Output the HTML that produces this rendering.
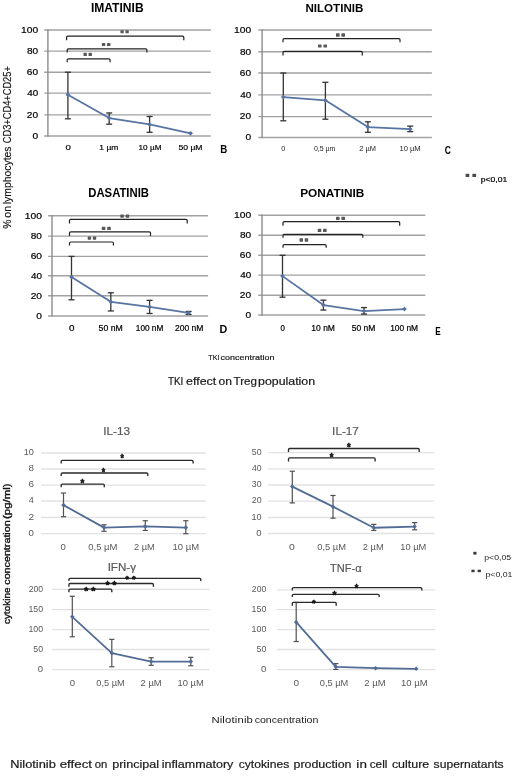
<!DOCTYPE html>
<html><head><meta charset="utf-8"><style>
html,body{margin:0;padding:0;background:#fff;}
svg{display:block;font-family:"Liberation Sans",sans-serif;will-change:transform;}
</style></head><body>
<svg width="520" height="776" viewBox="0 0 520 776">
<text x="90.92" y="11.80" font-size="12.03" font-weight="bold" fill="#000" textLength="52.72" lengthAdjust="spacingAndGlyphs" >IMATINIB</text>
<line x1="44.10" y1="136.00" x2="210.80" y2="136.00" stroke="#a2a2a2" stroke-width="1.4"/>
<text x="32.49" y="138.85" font-size="9.29" font-weight="normal" fill="#000" textLength="5.68" lengthAdjust="spacingAndGlyphs" stroke="#000" stroke-width="0.2">0</text>
<line x1="44.10" y1="114.90" x2="210.80" y2="114.90" stroke="#a2a2a2" stroke-width="1.4"/>
<text x="26.89" y="117.75" font-size="9.29" font-weight="normal" fill="#000" textLength="11.29" lengthAdjust="spacingAndGlyphs" stroke="#000" stroke-width="0.2">20</text>
<line x1="44.10" y1="93.10" x2="210.80" y2="93.10" stroke="#a2a2a2" stroke-width="1.4"/>
<text x="27.20" y="95.95" font-size="9.29" font-weight="normal" fill="#000" textLength="10.97" lengthAdjust="spacingAndGlyphs" stroke="#000" stroke-width="0.2">40</text>
<line x1="44.10" y1="72.20" x2="210.80" y2="72.20" stroke="#a2a2a2" stroke-width="1.4"/>
<text x="26.89" y="75.05" font-size="9.29" font-weight="normal" fill="#000" textLength="11.29" lengthAdjust="spacingAndGlyphs" stroke="#000" stroke-width="0.2">60</text>
<line x1="44.10" y1="51.10" x2="210.80" y2="51.10" stroke="#a2a2a2" stroke-width="1.4"/>
<text x="26.95" y="53.95" font-size="9.29" font-weight="normal" fill="#000" textLength="11.23" lengthAdjust="spacingAndGlyphs" stroke="#000" stroke-width="0.2">80</text>
<line x1="44.10" y1="30.00" x2="210.80" y2="30.00" stroke="#a2a2a2" stroke-width="1.4"/>
<text x="21.03" y="32.85" font-size="9.29" font-weight="normal" fill="#000" textLength="17.17" lengthAdjust="spacingAndGlyphs" stroke="#000" stroke-width="0.2">100</text>
<line x1="47.90" y1="29.30" x2="47.90" y2="136.70" stroke="#8c8c8c" stroke-width="1.4"/>
<line x1="67.90" y1="72.20" x2="67.90" y2="118.80" stroke="#333333" stroke-width="1.3"/>
<line x1="64.90" y1="72.20" x2="70.90" y2="72.20" stroke="#333333" stroke-width="1.3"/>
<line x1="64.90" y1="118.80" x2="70.90" y2="118.80" stroke="#333333" stroke-width="1.3"/>
<line x1="109.20" y1="112.94" x2="109.20" y2="124.18" stroke="#333333" stroke-width="1.3"/>
<line x1="106.20" y1="112.94" x2="112.20" y2="112.94" stroke="#333333" stroke-width="1.3"/>
<line x1="106.20" y1="124.18" x2="112.20" y2="124.18" stroke="#333333" stroke-width="1.3"/>
<line x1="149.60" y1="116.48" x2="149.60" y2="132.31" stroke="#333333" stroke-width="1.3"/>
<line x1="146.60" y1="116.48" x2="152.60" y2="116.48" stroke="#333333" stroke-width="1.3"/>
<line x1="146.60" y1="132.31" x2="152.60" y2="132.31" stroke="#333333" stroke-width="1.3"/>
<path d="M67.90,94.73 L109.20,118.06 L149.60,124.39 L190.60,133.36" stroke="#5874a2" stroke-width="1.8" fill="none" stroke-linejoin="round"/>
<path d="M65.50,94.73 L67.90,92.33 L70.30,94.73 L67.90,97.14 Z" fill="#5874a2"/>
<path d="M106.80,118.06 L109.20,115.66 L111.60,118.06 L109.20,120.47 Z" fill="#5874a2"/>
<path d="M147.20,124.39 L149.60,121.99 L152.00,124.39 L149.60,126.80 Z" fill="#5874a2"/>
<path d="M188.20,133.36 L190.60,130.96 L193.00,133.36 L190.60,135.76 Z" fill="#5874a2"/>
<text x="65.52" y="150.30" font-size="7.86" font-weight="normal" fill="#000" textLength="5.33" lengthAdjust="spacingAndGlyphs" stroke="#000" stroke-width="0.2">0</text>
<text x="99.37" y="150.30" font-size="7.97" font-weight="normal" fill="#000" textLength="18.97" lengthAdjust="spacingAndGlyphs" stroke="#000" stroke-width="0.2">1 µm</text>
<text x="138.59" y="150.30" font-size="7.86" font-weight="normal" fill="#000" textLength="22.90" lengthAdjust="spacingAndGlyphs" stroke="#000" stroke-width="0.2">10 µM</text>
<text x="178.46" y="150.30" font-size="7.86" font-weight="normal" fill="#000" textLength="24.07" lengthAdjust="spacingAndGlyphs" stroke="#000" stroke-width="0.2">50 µM</text>
<text x="220.27" y="153.40" font-size="10.14" font-weight="bold" fill="#000" textLength="6.99" lengthAdjust="spacingAndGlyphs" >B</text>
<path d="M66.60,40.30 L66.60,37.30 Q66.60,36.10 67.80,36.10 L182.60,36.10 Q183.80,36.10 183.80,37.30 L183.80,40.30" stroke="#222222" stroke-width="1.2" fill="none" />
<rect x="120.40" y="30.20" width="3.36" height="3.00" rx="0.6" fill="#585858"/>
<rect x="125.44" y="30.20" width="3.36" height="3.00" rx="0.6" fill="#585858"/>
<path d="M67.20,52.60 L67.20,50.00 Q67.20,48.80 68.40,48.80 L145.70,48.80 Q146.90,48.80 146.90,50.00 L146.90,52.60" stroke="#222222" stroke-width="1.2" fill="none" />
<rect x="101.90" y="43.00" width="3.40" height="3.00" rx="0.6" fill="#585858"/>
<rect x="107.00" y="43.00" width="3.40" height="3.00" rx="0.6" fill="#585858"/>
<path d="M67.20,62.30 L67.20,60.00 Q67.20,58.80 68.40,58.80 L108.90,58.80 Q110.10,58.80 110.10,60.00 L110.10,62.30" stroke="#222222" stroke-width="1.2" fill="none" />
<rect x="83.50" y="52.80" width="3.36" height="3.20" rx="0.6" fill="#585858"/>
<rect x="88.54" y="52.80" width="3.36" height="3.20" rx="0.6" fill="#585858"/>
<text x="305.45" y="11.90" font-size="11.71" font-weight="bold" fill="#000" textLength="57.93" lengthAdjust="spacingAndGlyphs" >NILOTINIB</text>
<line x1="258.30" y1="137.50" x2="431.90" y2="137.50" stroke="#a2a2a2" stroke-width="1.4"/>
<text x="245.49" y="140.35" font-size="9.29" font-weight="normal" fill="#000" textLength="5.68" lengthAdjust="spacingAndGlyphs" stroke="#000" stroke-width="0.2">0</text>
<line x1="258.30" y1="116.60" x2="431.90" y2="116.60" stroke="#a2a2a2" stroke-width="1.4"/>
<text x="239.89" y="119.45" font-size="9.29" font-weight="normal" fill="#000" textLength="11.29" lengthAdjust="spacingAndGlyphs" stroke="#000" stroke-width="0.2">20</text>
<line x1="258.30" y1="94.90" x2="431.90" y2="94.90" stroke="#a2a2a2" stroke-width="1.4"/>
<text x="240.20" y="97.75" font-size="9.29" font-weight="normal" fill="#000" textLength="10.97" lengthAdjust="spacingAndGlyphs" stroke="#000" stroke-width="0.2">40</text>
<line x1="258.30" y1="73.00" x2="431.90" y2="73.00" stroke="#a2a2a2" stroke-width="1.4"/>
<text x="239.89" y="75.85" font-size="9.29" font-weight="normal" fill="#000" textLength="11.29" lengthAdjust="spacingAndGlyphs" stroke="#000" stroke-width="0.2">60</text>
<line x1="258.30" y1="51.80" x2="431.90" y2="51.80" stroke="#a2a2a2" stroke-width="1.4"/>
<text x="239.95" y="54.65" font-size="9.29" font-weight="normal" fill="#000" textLength="11.23" lengthAdjust="spacingAndGlyphs" stroke="#000" stroke-width="0.2">80</text>
<line x1="258.30" y1="30.00" x2="431.90" y2="30.00" stroke="#a2a2a2" stroke-width="1.4"/>
<text x="234.03" y="32.85" font-size="9.29" font-weight="normal" fill="#000" textLength="17.17" lengthAdjust="spacingAndGlyphs" stroke="#000" stroke-width="0.2">100</text>
<line x1="262.10" y1="29.30" x2="262.10" y2="138.20" stroke="#8c8c8c" stroke-width="1.4"/>
<line x1="283.30" y1="73.00" x2="283.30" y2="120.78" stroke="#333333" stroke-width="1.3"/>
<line x1="280.30" y1="73.00" x2="286.30" y2="73.00" stroke="#333333" stroke-width="1.3"/>
<line x1="280.30" y1="120.78" x2="286.30" y2="120.78" stroke="#333333" stroke-width="1.3"/>
<line x1="325.40" y1="82.31" x2="325.40" y2="119.21" stroke="#333333" stroke-width="1.3"/>
<line x1="322.40" y1="82.31" x2="328.40" y2="82.31" stroke="#333333" stroke-width="1.3"/>
<line x1="322.40" y1="119.21" x2="328.40" y2="119.21" stroke="#333333" stroke-width="1.3"/>
<line x1="367.90" y1="121.82" x2="367.90" y2="132.28" stroke="#333333" stroke-width="1.3"/>
<line x1="364.90" y1="121.82" x2="370.90" y2="121.82" stroke="#333333" stroke-width="1.3"/>
<line x1="364.90" y1="132.28" x2="370.90" y2="132.28" stroke="#333333" stroke-width="1.3"/>
<line x1="410.20" y1="126.11" x2="410.20" y2="131.65" stroke="#333333" stroke-width="1.3"/>
<line x1="407.20" y1="126.11" x2="413.20" y2="126.11" stroke="#333333" stroke-width="1.3"/>
<line x1="407.20" y1="131.65" x2="413.20" y2="131.65" stroke="#333333" stroke-width="1.3"/>
<path d="M283.30,97.07 L325.40,100.33 L367.90,127.05 L410.20,129.14" stroke="#5874a2" stroke-width="1.8" fill="none" stroke-linejoin="round"/>
<path d="M280.90,97.07 L283.30,94.67 L285.70,97.07 L283.30,99.47 Z" fill="#5874a2"/>
<path d="M323.00,100.33 L325.40,97.92 L327.80,100.33 L325.40,102.73 Z" fill="#5874a2"/>
<path d="M365.50,127.05 L367.90,124.65 L370.30,127.05 L367.90,129.45 Z" fill="#5874a2"/>
<path d="M407.80,129.14 L410.20,126.74 L412.60,129.14 L410.20,131.54 Z" fill="#5874a2"/>
<text x="281.21" y="151.00" font-size="7.00" font-weight="normal" fill="#222" textLength="4.06" lengthAdjust="spacingAndGlyphs"  >0</text>
<text x="313.92" y="151.00" font-size="7.00" font-weight="normal" fill="#222" textLength="21.51" lengthAdjust="spacingAndGlyphs"  >0,5 µm</text>
<text x="359.33" y="151.00" font-size="7.00" font-weight="normal" fill="#222" textLength="16.69" lengthAdjust="spacingAndGlyphs"  >2 µM</text>
<text x="399.43" y="151.00" font-size="7.00" font-weight="normal" fill="#222" textLength="21.21" lengthAdjust="spacingAndGlyphs"  >10 µM</text>
<text x="444.76" y="153.80" font-size="10.57" font-weight="bold" fill="#000" textLength="6.17" lengthAdjust="spacingAndGlyphs" >C</text>
<path d="M283.00,42.30 L283.00,39.80 Q283.00,38.60 284.20,38.60 L398.80,38.60 Q400.00,38.60 400.00,39.80 L400.00,42.30" stroke="#222222" stroke-width="1.2" fill="none" />
<rect x="336.00" y="33.30" width="3.60" height="3.50" rx="0.6" fill="#585858"/>
<rect x="341.40" y="33.30" width="3.60" height="3.50" rx="0.6" fill="#585858"/>
<path d="M283.00,55.40 L283.00,52.50 Q283.00,51.30 284.20,51.30 L361.10,51.30 Q362.30,51.30 362.30,52.50 L362.30,55.40" stroke="#222222" stroke-width="1.2" fill="none" />
<rect x="318.00" y="44.40" width="3.60" height="3.20" rx="0.6" fill="#585858"/>
<rect x="323.40" y="44.40" width="3.60" height="3.20" rx="0.6" fill="#585858"/>
<rect x="465.60" y="173.80" width="3.70" height="3.20" fill="#4a4a4a"/>
<rect x="472.40" y="173.80" width="3.70" height="3.20" fill="#4a4a4a"/>
<text x="480.84" y="181.50" font-size="7.14" font-weight="normal" fill="#000" textLength="26.46" lengthAdjust="spacingAndGlyphs" stroke="#000" stroke-width="0.2">p&lt;0,01</text>
<text x="88.26" y="197.40" font-size="11.86" font-weight="bold" fill="#000" textLength="60.75" lengthAdjust="spacingAndGlyphs" >DASATINIB</text>
<line x1="48.00" y1="316.00" x2="208.10" y2="316.00" stroke="#a2a2a2" stroke-width="1.4"/>
<text x="36.29" y="318.85" font-size="9.29" font-weight="normal" fill="#000" textLength="5.68" lengthAdjust="spacingAndGlyphs" stroke="#000" stroke-width="0.2">0</text>
<line x1="48.00" y1="295.80" x2="208.10" y2="295.80" stroke="#a2a2a2" stroke-width="1.4"/>
<text x="30.69" y="298.65" font-size="9.29" font-weight="normal" fill="#000" textLength="11.29" lengthAdjust="spacingAndGlyphs" stroke="#000" stroke-width="0.2">20</text>
<line x1="48.00" y1="275.70" x2="208.10" y2="275.70" stroke="#a2a2a2" stroke-width="1.4"/>
<text x="31.00" y="278.55" font-size="9.29" font-weight="normal" fill="#000" textLength="10.97" lengthAdjust="spacingAndGlyphs" stroke="#000" stroke-width="0.2">40</text>
<line x1="48.00" y1="256.40" x2="208.10" y2="256.40" stroke="#a2a2a2" stroke-width="1.4"/>
<text x="30.69" y="259.25" font-size="9.29" font-weight="normal" fill="#000" textLength="11.29" lengthAdjust="spacingAndGlyphs" stroke="#000" stroke-width="0.2">60</text>
<line x1="48.00" y1="236.10" x2="208.10" y2="236.10" stroke="#a2a2a2" stroke-width="1.4"/>
<text x="30.75" y="238.95" font-size="9.29" font-weight="normal" fill="#000" textLength="11.23" lengthAdjust="spacingAndGlyphs" stroke="#000" stroke-width="0.2">80</text>
<line x1="48.00" y1="215.80" x2="208.10" y2="215.80" stroke="#a2a2a2" stroke-width="1.4"/>
<text x="24.83" y="218.65" font-size="9.29" font-weight="normal" fill="#000" textLength="17.17" lengthAdjust="spacingAndGlyphs" stroke="#000" stroke-width="0.2">100</text>
<line x1="52.00" y1="215.10" x2="52.00" y2="316.70" stroke="#8c8c8c" stroke-width="1.4"/>
<line x1="71.50" y1="256.40" x2="71.50" y2="299.84" stroke="#333333" stroke-width="1.3"/>
<line x1="68.50" y1="256.40" x2="74.50" y2="256.40" stroke="#333333" stroke-width="1.3"/>
<line x1="68.50" y1="299.84" x2="74.50" y2="299.84" stroke="#333333" stroke-width="1.3"/>
<line x1="110.80" y1="292.79" x2="110.80" y2="310.95" stroke="#333333" stroke-width="1.3"/>
<line x1="107.80" y1="292.79" x2="113.80" y2="292.79" stroke="#333333" stroke-width="1.3"/>
<line x1="107.80" y1="310.95" x2="113.80" y2="310.95" stroke="#333333" stroke-width="1.3"/>
<line x1="149.60" y1="300.35" x2="149.60" y2="313.48" stroke="#333333" stroke-width="1.3"/>
<line x1="146.60" y1="300.35" x2="152.60" y2="300.35" stroke="#333333" stroke-width="1.3"/>
<line x1="146.60" y1="313.48" x2="152.60" y2="313.48" stroke="#333333" stroke-width="1.3"/>
<line x1="188.60" y1="311.45" x2="188.60" y2="314.49" stroke="#333333" stroke-width="1.3"/>
<line x1="185.60" y1="311.45" x2="191.60" y2="311.45" stroke="#333333" stroke-width="1.3"/>
<line x1="185.60" y1="314.49" x2="191.60" y2="314.49" stroke="#333333" stroke-width="1.3"/>
<path d="M71.50,277.11 L110.80,301.86 L149.60,306.91 L188.60,312.97" stroke="#5874a2" stroke-width="1.8" fill="none" stroke-linejoin="round"/>
<path d="M69.10,277.11 L71.50,274.71 L73.90,277.11 L71.50,279.51 Z" fill="#5874a2"/>
<path d="M108.40,301.86 L110.80,299.46 L113.20,301.86 L110.80,304.26 Z" fill="#5874a2"/>
<path d="M147.20,306.91 L149.60,304.51 L152.00,306.91 L149.60,309.31 Z" fill="#5874a2"/>
<path d="M186.20,312.97 L188.60,310.57 L191.00,312.97 L188.60,315.37 Z" fill="#5874a2"/>
<text x="69.11" y="330.60" font-size="8.14" font-weight="normal" fill="#000" textLength="5.45" lengthAdjust="spacingAndGlyphs" stroke="#000" stroke-width="0.2">0</text>
<text x="98.55" y="330.60" font-size="8.14" font-weight="normal" fill="#000" textLength="24.18" lengthAdjust="spacingAndGlyphs" stroke="#000" stroke-width="0.2">50 nM</text>
<text x="135.88" y="330.60" font-size="8.14" font-weight="normal" fill="#000" textLength="27.38" lengthAdjust="spacingAndGlyphs" stroke="#000" stroke-width="0.2">100 nM</text>
<text x="174.97" y="330.60" font-size="8.14" font-weight="normal" fill="#000" textLength="28.52" lengthAdjust="spacingAndGlyphs" stroke="#000" stroke-width="0.2">200 nM</text>
<text x="219.60" y="333.40" font-size="10.72" font-weight="bold" fill="#000" textLength="7.75" lengthAdjust="spacingAndGlyphs" >D</text>
<path d="M69.50,223.40 L69.50,220.50 Q69.50,219.30 70.70,219.30 L186.00,219.30 Q187.20,219.30 187.20,220.50 L187.20,223.40" stroke="#222222" stroke-width="1.2" fill="none" />
<rect x="120.30" y="214.40" width="3.56" height="3.30" rx="0.6" fill="#585858"/>
<rect x="125.64" y="214.40" width="3.56" height="3.30" rx="0.6" fill="#585858"/>
<path d="M69.50,236.10 L69.50,233.10 Q69.50,231.90 70.70,231.90 L149.30,231.90 Q150.50,231.90 150.50,233.10 L150.50,236.10" stroke="#222222" stroke-width="1.2" fill="none" />
<rect x="101.80" y="226.80" width="3.60" height="3.30" rx="0.6" fill="#585858"/>
<rect x="107.20" y="226.80" width="3.60" height="3.30" rx="0.6" fill="#585858"/>
<path d="M69.50,245.40 L69.50,243.20 Q69.50,242.00 70.70,242.00 L112.20,242.00 Q113.40,242.00 113.40,243.20 L113.40,245.40" stroke="#222222" stroke-width="1.2" fill="none" />
<rect x="87.70" y="236.40" width="3.40" height="3.30" rx="0.6" fill="#585858"/>
<rect x="92.80" y="236.40" width="3.40" height="3.30" rx="0.6" fill="#585858"/>
<text x="300.23" y="197.20" font-size="11.43" font-weight="bold" fill="#000" textLength="64.11" lengthAdjust="spacingAndGlyphs" >PONATINIB</text>
<line x1="258.20" y1="315.00" x2="425.30" y2="315.00" stroke="#a2a2a2" stroke-width="1.4"/>
<text x="245.49" y="317.85" font-size="9.29" font-weight="normal" fill="#000" textLength="5.68" lengthAdjust="spacingAndGlyphs" stroke="#000" stroke-width="0.2">0</text>
<line x1="258.20" y1="295.20" x2="425.30" y2="295.20" stroke="#a2a2a2" stroke-width="1.4"/>
<text x="239.89" y="298.05" font-size="9.29" font-weight="normal" fill="#000" textLength="11.29" lengthAdjust="spacingAndGlyphs" stroke="#000" stroke-width="0.2">20</text>
<line x1="258.20" y1="275.10" x2="425.30" y2="275.10" stroke="#a2a2a2" stroke-width="1.4"/>
<text x="240.20" y="277.95" font-size="9.29" font-weight="normal" fill="#000" textLength="10.97" lengthAdjust="spacingAndGlyphs" stroke="#000" stroke-width="0.2">40</text>
<line x1="258.20" y1="255.30" x2="425.30" y2="255.30" stroke="#a2a2a2" stroke-width="1.4"/>
<text x="239.89" y="258.15" font-size="9.29" font-weight="normal" fill="#000" textLength="11.29" lengthAdjust="spacingAndGlyphs" stroke="#000" stroke-width="0.2">60</text>
<line x1="258.20" y1="235.30" x2="425.30" y2="235.30" stroke="#a2a2a2" stroke-width="1.4"/>
<text x="239.95" y="238.15" font-size="9.29" font-weight="normal" fill="#000" textLength="11.23" lengthAdjust="spacingAndGlyphs" stroke="#000" stroke-width="0.2">80</text>
<line x1="258.20" y1="215.20" x2="425.30" y2="215.20" stroke="#a2a2a2" stroke-width="1.4"/>
<text x="234.03" y="218.05" font-size="9.29" font-weight="normal" fill="#000" textLength="17.17" lengthAdjust="spacingAndGlyphs" stroke="#000" stroke-width="0.2">100</text>
<line x1="262.00" y1="214.50" x2="262.00" y2="315.70" stroke="#8c8c8c" stroke-width="1.4"/>
<line x1="282.50" y1="255.30" x2="282.50" y2="297.18" stroke="#333333" stroke-width="1.3"/>
<line x1="279.50" y1="255.30" x2="285.50" y2="255.30" stroke="#333333" stroke-width="1.3"/>
<line x1="279.50" y1="297.18" x2="285.50" y2="297.18" stroke="#333333" stroke-width="1.3"/>
<line x1="323.40" y1="300.15" x2="323.40" y2="310.05" stroke="#333333" stroke-width="1.3"/>
<line x1="320.40" y1="300.15" x2="326.40" y2="300.15" stroke="#333333" stroke-width="1.3"/>
<line x1="320.40" y1="310.05" x2="326.40" y2="310.05" stroke="#333333" stroke-width="1.3"/>
<line x1="364.00" y1="307.57" x2="364.00" y2="314.01" stroke="#333333" stroke-width="1.3"/>
<line x1="361.00" y1="307.57" x2="367.00" y2="307.57" stroke="#333333" stroke-width="1.3"/>
<line x1="361.00" y1="314.01" x2="367.00" y2="314.01" stroke="#333333" stroke-width="1.3"/>
<path d="M282.50,276.11 L323.40,305.10 L364.00,311.04 L404.40,309.06" stroke="#5874a2" stroke-width="1.8" fill="none" stroke-linejoin="round"/>
<path d="M280.10,276.11 L282.50,273.71 L284.90,276.11 L282.50,278.50 Z" fill="#5874a2"/>
<path d="M321.00,305.10 L323.40,302.70 L325.80,305.10 L323.40,307.50 Z" fill="#5874a2"/>
<path d="M361.60,311.04 L364.00,308.64 L366.40,311.04 L364.00,313.44 Z" fill="#5874a2"/>
<path d="M402.00,309.06 L404.40,306.66 L406.80,309.06 L404.40,311.46 Z" fill="#5874a2"/>
<text x="280.48" y="330.60" font-size="8.14" font-weight="normal" fill="#000" textLength="4.40" lengthAdjust="spacingAndGlyphs" stroke="#000" stroke-width="0.2">0</text>
<text x="311.36" y="330.60" font-size="8.14" font-weight="normal" fill="#000" textLength="23.55" lengthAdjust="spacingAndGlyphs" stroke="#000" stroke-width="0.2">10 nM</text>
<text x="351.66" y="330.60" font-size="8.14" font-weight="normal" fill="#000" textLength="23.66" lengthAdjust="spacingAndGlyphs" stroke="#000" stroke-width="0.2">50 nM</text>
<text x="390.17" y="330.60" font-size="8.14" font-weight="normal" fill="#000" textLength="27.90" lengthAdjust="spacingAndGlyphs" stroke="#000" stroke-width="0.2">100 nM</text>
<text x="435.37" y="334.80" font-size="10.00" font-weight="bold" fill="#000" textLength="5.43" lengthAdjust="spacingAndGlyphs" >E</text>
<path d="M283.00,225.80 L283.00,222.80 Q283.00,221.60 284.20,221.60 L398.50,221.60 Q399.70,221.60 399.70,222.80 L399.70,225.80" stroke="#222222" stroke-width="1.2" fill="none" />
<rect x="336.00" y="216.80" width="3.60" height="3.10" rx="0.6" fill="#585858"/>
<rect x="341.40" y="216.80" width="3.60" height="3.10" rx="0.6" fill="#585858"/>
<path d="M283.00,237.70 L283.00,235.60 Q283.00,234.40 284.20,234.40 L361.60,234.40 Q362.80,234.40 362.80,235.60 L362.80,237.70" stroke="#222222" stroke-width="1.2" fill="none" />
<rect x="317.70" y="228.80" width="3.56" height="3.30" rx="0.6" fill="#585858"/>
<rect x="323.04" y="228.80" width="3.56" height="3.30" rx="0.6" fill="#585858"/>
<path d="M283.00,247.70 L283.00,245.80 Q283.00,244.60 284.20,244.60 L325.00,244.60 Q326.20,244.60 326.20,245.80 L326.20,247.70" stroke="#222222" stroke-width="1.2" fill="none" />
<rect x="299.50" y="238.30" width="3.48" height="3.40" rx="0.6" fill="#585858"/>
<rect x="304.72" y="238.30" width="3.48" height="3.40" rx="0.6" fill="#585858"/>
<text transform="translate(10.60,228.66) rotate(-90)" x="0" y="0" font-size="10.10" font-weight="normal" fill="#111" textLength="9.11" lengthAdjust="spacingAndGlyphs" stroke="#111" stroke-width="0.15">%</text>
<text transform="translate(10.60,217.63) rotate(-90)" x="0" y="0" font-size="10.10" font-weight="normal" fill="#111" textLength="11.84" lengthAdjust="spacingAndGlyphs" stroke="#111" stroke-width="0.15">on</text>
<text transform="translate(10.60,204.28) rotate(-90)" x="0" y="0" font-size="10.10" font-weight="normal" fill="#111" textLength="57.82" lengthAdjust="spacingAndGlyphs" stroke="#111" stroke-width="0.15">lymphocytes</text>
<text transform="translate(10.60,143.26) rotate(-90)" x="0" y="0" font-size="10.10" font-weight="normal" fill="#111" textLength="77.13" lengthAdjust="spacingAndGlyphs" stroke="#111" stroke-width="0.15">CD3+CD4+CD25+</text>
<text x="208.36" y="359.80" font-size="7.97" font-weight="normal" fill="#1a1a1a" textLength="11.09" lengthAdjust="spacingAndGlyphs" stroke="#1a1a1a" stroke-width="0.2">TKI</text>
<text x="220.64" y="359.80" font-size="7.97" font-weight="normal" fill="#1a1a1a" textLength="53.83" lengthAdjust="spacingAndGlyphs" stroke="#1a1a1a" stroke-width="0.2">concentration</text>
<text x="167.90" y="384.80" font-size="10.58" font-weight="normal" fill="#1a1a1a" textLength="15.50" lengthAdjust="spacingAndGlyphs" stroke="#1a1a1a" stroke-width="0.2">TKI</text>
<text x="186.10" y="384.80" font-size="10.58" font-weight="normal" fill="#1a1a1a" textLength="30.19" lengthAdjust="spacingAndGlyphs" stroke="#1a1a1a" stroke-width="0.2">effect</text>
<text x="218.62" y="384.80" font-size="10.58" font-weight="normal" fill="#1a1a1a" textLength="13.39" lengthAdjust="spacingAndGlyphs" stroke="#1a1a1a" stroke-width="0.2">on</text>
<text x="233.57" y="384.80" font-size="10.58" font-weight="normal" fill="#1a1a1a" textLength="23.37" lengthAdjust="spacingAndGlyphs" stroke="#1a1a1a" stroke-width="0.2">Treg</text>
<text x="258.00" y="384.80" font-size="10.58" font-weight="normal" fill="#1a1a1a" textLength="57.11" lengthAdjust="spacingAndGlyphs" stroke="#1a1a1a" stroke-width="0.2">population</text>
<text x="103.24" y="434.80" font-size="10.86" font-weight="normal" fill="#595959" textLength="26.82" lengthAdjust="spacingAndGlyphs" stroke="#595959" stroke-width="0.2">IL-13</text>
<line x1="41.00" y1="533.70" x2="206.00" y2="533.70" stroke="#e2e2e2" stroke-width="1.3"/>
<text x="28.62" y="535.80" font-size="8.29" font-weight="normal" fill="#595959" textLength="5.33" lengthAdjust="spacingAndGlyphs" >0</text>
<line x1="41.00" y1="517.50" x2="206.00" y2="517.50" stroke="#e2e2e2" stroke-width="1.3"/>
<text x="28.49" y="519.60" font-size="8.29" font-weight="normal" fill="#595959" textLength="5.62" lengthAdjust="spacingAndGlyphs" >2</text>
<line x1="41.00" y1="501.00" x2="206.00" y2="501.00" stroke="#e2e2e2" stroke-width="1.3"/>
<text x="28.82" y="503.10" font-size="8.41" font-weight="normal" fill="#595959" textLength="5.07" lengthAdjust="spacingAndGlyphs" >4</text>
<line x1="41.00" y1="485.10" x2="206.00" y2="485.10" stroke="#e2e2e2" stroke-width="1.3"/>
<text x="28.51" y="487.20" font-size="8.29" font-weight="normal" fill="#595959" textLength="5.50" lengthAdjust="spacingAndGlyphs" >6</text>
<line x1="41.00" y1="469.00" x2="206.00" y2="469.00" stroke="#e2e2e2" stroke-width="1.3"/>
<text x="28.56" y="471.10" font-size="8.29" font-weight="normal" fill="#595959" textLength="5.44" lengthAdjust="spacingAndGlyphs" >8</text>
<line x1="41.00" y1="453.00" x2="206.00" y2="453.00" stroke="#e2e2e2" stroke-width="1.3"/>
<text x="23.82" y="455.10" font-size="8.29" font-weight="normal" fill="#595959" textLength="10.12" lengthAdjust="spacingAndGlyphs" >10</text>
<line x1="63.50" y1="493.05" x2="63.50" y2="516.67" stroke="#505050" stroke-width="1.2"/>
<line x1="60.90" y1="493.05" x2="66.10" y2="493.05" stroke="#505050" stroke-width="1.2"/>
<line x1="60.90" y1="516.67" x2="66.10" y2="516.67" stroke="#505050" stroke-width="1.2"/>
<line x1="104.00" y1="524.79" x2="104.00" y2="531.27" stroke="#505050" stroke-width="1.2"/>
<line x1="101.40" y1="524.79" x2="106.60" y2="524.79" stroke="#505050" stroke-width="1.2"/>
<line x1="101.40" y1="531.27" x2="106.60" y2="531.27" stroke="#505050" stroke-width="1.2"/>
<line x1="145.30" y1="520.74" x2="145.30" y2="530.46" stroke="#505050" stroke-width="1.2"/>
<line x1="142.70" y1="520.74" x2="147.90" y2="520.74" stroke="#505050" stroke-width="1.2"/>
<line x1="142.70" y1="530.46" x2="147.90" y2="530.46" stroke="#505050" stroke-width="1.2"/>
<line x1="185.80" y1="520.74" x2="185.80" y2="533.70" stroke="#505050" stroke-width="1.2"/>
<line x1="183.20" y1="520.74" x2="188.40" y2="520.74" stroke="#505050" stroke-width="1.2"/>
<line x1="183.20" y1="533.70" x2="188.40" y2="533.70" stroke="#505050" stroke-width="1.2"/>
<path d="M63.50,505.12 L104.00,527.62 L145.30,526.41 L185.80,527.62" stroke="#526c96" stroke-width="1.8" fill="none" stroke-linejoin="round"/>
<path d="M61.20,505.12 L63.50,502.82 L65.80,505.12 L63.50,507.43 Z" fill="#526c96"/>
<path d="M101.70,527.62 L104.00,525.33 L106.30,527.62 L104.00,529.92 Z" fill="#526c96"/>
<path d="M143.00,526.41 L145.30,524.11 L147.60,526.41 L145.30,528.71 Z" fill="#526c96"/>
<path d="M183.50,527.62 L185.80,525.33 L188.10,527.62 L185.80,529.92 Z" fill="#526c96"/>
<text x="60.62" y="549.80" font-size="8.57" font-weight="normal" fill="#595959" textLength="5.33" lengthAdjust="spacingAndGlyphs" >0</text>
<text x="88.32" y="549.80" font-size="8.57" font-weight="normal" fill="#595959" textLength="29.16" lengthAdjust="spacingAndGlyphs" >0,5 µM</text>
<text x="133.94" y="549.80" font-size="8.57" font-weight="normal" fill="#595959" textLength="20.84" lengthAdjust="spacingAndGlyphs" >2 µM</text>
<text x="172.49" y="549.80" font-size="8.57" font-weight="normal" fill="#595959" textLength="26.62" lengthAdjust="spacingAndGlyphs" >10 µM</text>
<path d="M61.20,463.60 L61.20,461.60 Q61.20,460.40 62.40,460.40 L191.90,460.40 Q193.10,460.40 193.10,461.60 L193.10,463.60" stroke="#2a2a2a" stroke-width="1.35" fill="none" />
<text x="120.41" y="462.35" font-size="10.00" font-weight="bold" fill="#111" textLength="3.38" lengthAdjust="spacingAndGlyphs" stroke="#111" stroke-width="0.5" stroke-linejoin="round">*</text>
<path d="M61.20,475.90 L61.20,474.20 Q61.20,473.00 62.40,473.00 L146.60,473.00 Q147.80,473.00 147.80,474.20 L147.80,475.90" stroke="#2a2a2a" stroke-width="1.35" fill="none" />
<text x="101.81" y="475.95" font-size="10.00" font-weight="bold" fill="#111" textLength="3.38" lengthAdjust="spacingAndGlyphs" stroke="#111" stroke-width="0.5" stroke-linejoin="round">*</text>
<path d="M61.20,487.20 L61.20,485.30 Q61.20,484.10 62.40,484.10 L103.10,484.10 Q104.30,484.10 104.30,485.30 L104.30,487.20" stroke="#2a2a2a" stroke-width="1.35" fill="none" />
<text x="80.60" y="486.55" font-size="10.00" font-weight="bold" fill="#111" textLength="3.79" lengthAdjust="spacingAndGlyphs" stroke="#111" stroke-width="0.5" stroke-linejoin="round">*</text>
<text x="332.14" y="435.20" font-size="11.59" font-weight="normal" fill="#595959" textLength="26.73" lengthAdjust="spacingAndGlyphs" stroke="#595959" stroke-width="0.2">IL-17</text>
<line x1="268.20" y1="533.50" x2="434.30" y2="533.50" stroke="#e2e2e2" stroke-width="1.3"/>
<text x="256.32" y="535.60" font-size="8.29" font-weight="normal" fill="#595959" textLength="5.33" lengthAdjust="spacingAndGlyphs" >0</text>
<line x1="268.20" y1="517.50" x2="434.30" y2="517.50" stroke="#e2e2e2" stroke-width="1.3"/>
<text x="251.52" y="519.60" font-size="8.29" font-weight="normal" fill="#595959" textLength="10.12" lengthAdjust="spacingAndGlyphs" >10</text>
<line x1="268.20" y1="501.10" x2="434.30" y2="501.10" stroke="#e2e2e2" stroke-width="1.3"/>
<text x="251.76" y="503.20" font-size="8.29" font-weight="normal" fill="#595959" textLength="9.88" lengthAdjust="spacingAndGlyphs" >20</text>
<line x1="268.20" y1="485.00" x2="434.30" y2="485.00" stroke="#e2e2e2" stroke-width="1.3"/>
<text x="251.85" y="487.10" font-size="8.29" font-weight="normal" fill="#595959" textLength="9.78" lengthAdjust="spacingAndGlyphs" >30</text>
<line x1="268.20" y1="468.80" x2="434.30" y2="468.80" stroke="#e2e2e2" stroke-width="1.3"/>
<text x="252.03" y="470.90" font-size="8.29" font-weight="normal" fill="#595959" textLength="9.59" lengthAdjust="spacingAndGlyphs" >40</text>
<line x1="268.20" y1="452.70" x2="434.30" y2="452.70" stroke="#e2e2e2" stroke-width="1.3"/>
<text x="251.85" y="454.80" font-size="8.29" font-weight="normal" fill="#595959" textLength="9.78" lengthAdjust="spacingAndGlyphs" >50</text>
<line x1="292.30" y1="471.23" x2="292.30" y2="502.90" stroke="#505050" stroke-width="1.2"/>
<line x1="289.70" y1="471.23" x2="294.90" y2="471.23" stroke="#505050" stroke-width="1.2"/>
<line x1="289.70" y1="502.90" x2="294.90" y2="502.90" stroke="#505050" stroke-width="1.2"/>
<line x1="333.00" y1="495.47" x2="333.00" y2="518.14" stroke="#505050" stroke-width="1.2"/>
<line x1="330.40" y1="495.47" x2="335.60" y2="495.47" stroke="#505050" stroke-width="1.2"/>
<line x1="330.40" y1="518.14" x2="335.60" y2="518.14" stroke="#505050" stroke-width="1.2"/>
<line x1="373.80" y1="524.38" x2="373.80" y2="530.46" stroke="#505050" stroke-width="1.2"/>
<line x1="371.20" y1="524.38" x2="376.40" y2="524.38" stroke="#505050" stroke-width="1.2"/>
<line x1="371.20" y1="530.46" x2="376.40" y2="530.46" stroke="#505050" stroke-width="1.2"/>
<line x1="414.60" y1="522.62" x2="414.60" y2="529.82" stroke="#505050" stroke-width="1.2"/>
<line x1="412.00" y1="522.62" x2="417.20" y2="522.62" stroke="#505050" stroke-width="1.2"/>
<line x1="412.00" y1="529.82" x2="417.20" y2="529.82" stroke="#505050" stroke-width="1.2"/>
<path d="M292.30,486.61 L333.00,506.68 L373.80,527.74 L414.60,526.62" stroke="#526c96" stroke-width="1.8" fill="none" stroke-linejoin="round"/>
<path d="M290.00,486.61 L292.30,484.31 L294.60,486.61 L292.30,488.91 Z" fill="#526c96"/>
<path d="M330.70,506.68 L333.00,504.38 L335.30,506.68 L333.00,508.98 Z" fill="#526c96"/>
<path d="M371.50,527.74 L373.80,525.44 L376.10,527.74 L373.80,530.04 Z" fill="#526c96"/>
<path d="M412.30,526.62 L414.60,524.32 L416.90,526.62 L414.60,528.92 Z" fill="#526c96"/>
<text x="288.98" y="549.50" font-size="8.86" font-weight="normal" fill="#595959" textLength="5.79" lengthAdjust="spacingAndGlyphs" >0</text>
<text x="317.23" y="549.50" font-size="8.86" font-weight="normal" fill="#595959" textLength="28.74" lengthAdjust="spacingAndGlyphs" >0,5 µM</text>
<text x="362.73" y="549.50" font-size="8.86" font-weight="normal" fill="#595959" textLength="20.94" lengthAdjust="spacingAndGlyphs" >2 µM</text>
<text x="400.30" y="549.50" font-size="8.86" font-weight="normal" fill="#595959" textLength="26.09" lengthAdjust="spacingAndGlyphs" >10 µM</text>
<path d="M288.50,452.00 L288.50,449.70 Q288.50,448.50 289.70,448.50 L418.00,448.50 Q419.20,448.50 419.20,449.70 L419.20,452.00" stroke="#2a2a2a" stroke-width="1.35" fill="none" />
<text x="347.00" y="450.55" font-size="10.00" font-weight="bold" fill="#111" textLength="3.69" lengthAdjust="spacingAndGlyphs" stroke="#111" stroke-width="0.5" stroke-linejoin="round">*</text>
<path d="M288.50,461.60 L288.50,459.00 Q288.50,457.80 289.70,457.80 L373.90,457.80 Q375.10,457.80 375.10,459.00 L375.10,461.60" stroke="#2a2a2a" stroke-width="1.35" fill="none" />
<text x="329.80" y="460.75" font-size="10.00" font-weight="bold" fill="#111" textLength="3.69" lengthAdjust="spacingAndGlyphs" stroke="#111" stroke-width="0.5" stroke-linejoin="round">*</text>
<text x="107.65" y="571.00" font-size="10.87" font-weight="normal" fill="#595959" textLength="28.39" lengthAdjust="spacingAndGlyphs" stroke="#595959" stroke-width="0.2">IFN-γ</text>
<line x1="52.30" y1="669.60" x2="209.30" y2="669.60" stroke="#e2e2e2" stroke-width="1.3"/>
<text x="37.82" y="671.70" font-size="8.29" font-weight="normal" fill="#595959" textLength="5.33" lengthAdjust="spacingAndGlyphs" >0</text>
<line x1="52.30" y1="649.50" x2="209.30" y2="649.50" stroke="#e2e2e2" stroke-width="1.3"/>
<text x="33.35" y="651.60" font-size="8.29" font-weight="normal" fill="#595959" textLength="9.78" lengthAdjust="spacingAndGlyphs" >50</text>
<line x1="52.30" y1="629.60" x2="209.30" y2="629.60" stroke="#e2e2e2" stroke-width="1.3"/>
<text x="28.44" y="631.70" font-size="8.29" font-weight="normal" fill="#595959" textLength="14.70" lengthAdjust="spacingAndGlyphs" >100</text>
<line x1="52.30" y1="609.60" x2="209.30" y2="609.60" stroke="#e2e2e2" stroke-width="1.3"/>
<text x="28.44" y="611.70" font-size="8.29" font-weight="normal" fill="#595959" textLength="14.70" lengthAdjust="spacingAndGlyphs" >150</text>
<line x1="52.30" y1="589.40" x2="209.30" y2="589.40" stroke="#e2e2e2" stroke-width="1.3"/>
<text x="28.67" y="591.50" font-size="8.29" font-weight="normal" fill="#595959" textLength="14.47" lengthAdjust="spacingAndGlyphs" >200</text>
<line x1="72.30" y1="596.27" x2="72.30" y2="636.76" stroke="#505050" stroke-width="1.2"/>
<line x1="69.70" y1="596.27" x2="74.90" y2="596.27" stroke="#505050" stroke-width="1.2"/>
<line x1="69.70" y1="636.76" x2="74.90" y2="636.76" stroke="#505050" stroke-width="1.2"/>
<line x1="111.80" y1="639.35" x2="111.80" y2="666.79" stroke="#505050" stroke-width="1.2"/>
<line x1="109.20" y1="639.35" x2="114.40" y2="639.35" stroke="#505050" stroke-width="1.2"/>
<line x1="109.20" y1="666.79" x2="114.40" y2="666.79" stroke="#505050" stroke-width="1.2"/>
<line x1="151.20" y1="657.74" x2="151.20" y2="665.30" stroke="#505050" stroke-width="1.2"/>
<line x1="148.60" y1="657.74" x2="153.80" y2="657.74" stroke="#505050" stroke-width="1.2"/>
<line x1="148.60" y1="665.30" x2="153.80" y2="665.30" stroke="#505050" stroke-width="1.2"/>
<line x1="190.80" y1="657.34" x2="190.80" y2="665.78" stroke="#505050" stroke-width="1.2"/>
<line x1="188.20" y1="657.34" x2="193.40" y2="657.34" stroke="#505050" stroke-width="1.2"/>
<line x1="188.20" y1="665.78" x2="193.40" y2="665.78" stroke="#505050" stroke-width="1.2"/>
<path d="M72.30,616.80 L111.80,653.12 L151.20,661.56 L190.80,661.56" stroke="#526c96" stroke-width="1.8" fill="none" stroke-linejoin="round"/>
<path d="M70.00,616.80 L72.30,614.50 L74.60,616.80 L72.30,619.10 Z" fill="#526c96"/>
<path d="M109.50,653.12 L111.80,650.82 L114.10,653.12 L111.80,655.42 Z" fill="#526c96"/>
<path d="M148.90,661.56 L151.20,659.26 L153.50,661.56 L151.20,663.86 Z" fill="#526c96"/>
<path d="M188.50,661.56 L190.80,659.26 L193.10,661.56 L190.80,663.86 Z" fill="#526c96"/>
<text x="69.82" y="685.50" font-size="8.71" font-weight="normal" fill="#595959" textLength="5.33" lengthAdjust="spacingAndGlyphs" >0</text>
<text x="96.33" y="685.50" font-size="8.71" font-weight="normal" fill="#595959" textLength="28.43" lengthAdjust="spacingAndGlyphs" >0,5 µM</text>
<text x="140.53" y="685.50" font-size="8.71" font-weight="normal" fill="#595959" textLength="21.16" lengthAdjust="spacingAndGlyphs" >2 µM</text>
<text x="177.50" y="685.50" font-size="8.71" font-weight="normal" fill="#595959" textLength="26.19" lengthAdjust="spacingAndGlyphs" >10 µM</text>
<path d="M68.90,581.00 L68.90,579.50 Q68.90,578.30 70.10,578.30 L199.60,578.30 Q200.80,578.30 200.80,579.50 L200.80,581.00" stroke="#2a2a2a" stroke-width="1.35" fill="none" />
<text x="125.41" y="582.09" font-size="9.19" font-weight="bold" fill="#111" textLength="3.38" lengthAdjust="spacingAndGlyphs" stroke="#111" stroke-width="0.5" stroke-linejoin="round">*</text>
<text x="132.00" y="582.09" font-size="9.19" font-weight="bold" fill="#111" textLength="3.58" lengthAdjust="spacingAndGlyphs" stroke="#111" stroke-width="0.5" stroke-linejoin="round">*</text>
<path d="M68.90,586.80 L68.90,584.70 Q68.90,583.50 70.10,583.50 L152.20,583.50 Q153.40,583.50 153.40,584.70 L153.40,586.80" stroke="#2a2a2a" stroke-width="1.35" fill="none" />
<text x="105.80" y="588.54" font-size="10.27" font-weight="bold" fill="#111" textLength="3.58" lengthAdjust="spacingAndGlyphs" stroke="#111" stroke-width="0.5" stroke-linejoin="round">*</text>
<text x="112.40" y="588.54" font-size="10.27" font-weight="bold" fill="#111" textLength="3.79" lengthAdjust="spacingAndGlyphs" stroke="#111" stroke-width="0.5" stroke-linejoin="round">*</text>
<path d="M68.90,592.30 L68.90,590.30 Q68.90,589.10 70.10,589.10 L110.60,589.10 Q111.80,589.10 111.80,590.30 L111.80,592.30" stroke="#2a2a2a" stroke-width="1.35" fill="none" />
<text x="84.20" y="595.10" font-size="11.08" font-weight="bold" fill="#111" textLength="3.99" lengthAdjust="spacingAndGlyphs" stroke="#111" stroke-width="0.5" stroke-linejoin="round">*</text>
<text x="91.20" y="595.10" font-size="11.08" font-weight="bold" fill="#111" textLength="4.20" lengthAdjust="spacingAndGlyphs" stroke="#111" stroke-width="0.5" stroke-linejoin="round">*</text>
<text x="329.98" y="572.00" font-size="11.59" font-weight="normal" fill="#595959" textLength="31.66" lengthAdjust="spacingAndGlyphs" stroke="#595959" stroke-width="0.2">TNF-α</text>
<line x1="277.00" y1="669.60" x2="435.40" y2="669.60" stroke="#e2e2e2" stroke-width="1.3"/>
<text x="261.02" y="671.70" font-size="8.29" font-weight="normal" fill="#595959" textLength="5.33" lengthAdjust="spacingAndGlyphs" >0</text>
<line x1="277.00" y1="649.50" x2="435.40" y2="649.50" stroke="#e2e2e2" stroke-width="1.3"/>
<text x="256.55" y="651.60" font-size="8.29" font-weight="normal" fill="#595959" textLength="9.78" lengthAdjust="spacingAndGlyphs" >50</text>
<line x1="277.00" y1="629.60" x2="435.40" y2="629.60" stroke="#e2e2e2" stroke-width="1.3"/>
<text x="251.64" y="631.70" font-size="8.29" font-weight="normal" fill="#595959" textLength="14.70" lengthAdjust="spacingAndGlyphs" >100</text>
<line x1="277.00" y1="609.60" x2="435.40" y2="609.60" stroke="#e2e2e2" stroke-width="1.3"/>
<text x="251.64" y="611.70" font-size="8.29" font-weight="normal" fill="#595959" textLength="14.70" lengthAdjust="spacingAndGlyphs" >150</text>
<line x1="277.00" y1="589.80" x2="435.40" y2="589.80" stroke="#e2e2e2" stroke-width="1.3"/>
<text x="251.87" y="591.90" font-size="8.29" font-weight="normal" fill="#595959" textLength="14.47" lengthAdjust="spacingAndGlyphs" >200</text>
<line x1="296.20" y1="602.47" x2="296.20" y2="641.54" stroke="#505050" stroke-width="1.2"/>
<line x1="293.60" y1="602.47" x2="298.80" y2="602.47" stroke="#505050" stroke-width="1.2"/>
<line x1="293.60" y1="641.54" x2="298.80" y2="641.54" stroke="#505050" stroke-width="1.2"/>
<line x1="335.80" y1="663.57" x2="335.80" y2="669.40" stroke="#505050" stroke-width="1.2"/>
<line x1="333.20" y1="663.57" x2="338.40" y2="663.57" stroke="#505050" stroke-width="1.2"/>
<line x1="333.20" y1="669.40" x2="338.40" y2="669.40" stroke="#505050" stroke-width="1.2"/>
<path d="M296.20,622.20 L335.80,666.79 L375.60,668.19 L416.20,668.80" stroke="#526c96" stroke-width="1.8" fill="none" stroke-linejoin="round"/>
<path d="M293.90,622.20 L296.20,619.90 L298.50,622.20 L296.20,624.50 Z" fill="#526c96"/>
<path d="M333.50,666.79 L335.80,664.49 L338.10,666.79 L335.80,669.09 Z" fill="#526c96"/>
<path d="M373.30,668.19 L375.60,665.89 L377.90,668.19 L375.60,670.49 Z" fill="#526c96"/>
<path d="M413.90,668.80 L416.20,666.50 L418.50,668.80 L416.20,671.10 Z" fill="#526c96"/>
<text x="293.60" y="685.50" font-size="8.71" font-weight="normal" fill="#595959" textLength="5.56" lengthAdjust="spacingAndGlyphs" >0</text>
<text x="319.83" y="685.50" font-size="8.71" font-weight="normal" fill="#595959" textLength="28.43" lengthAdjust="spacingAndGlyphs" >0,5 µM</text>
<text x="364.32" y="685.50" font-size="8.71" font-weight="normal" fill="#595959" textLength="21.37" lengthAdjust="spacingAndGlyphs" >2 µM</text>
<text x="400.99" y="685.50" font-size="8.71" font-weight="normal" fill="#595959" textLength="26.62" lengthAdjust="spacingAndGlyphs" >10 µM</text>
<path d="M292.30,590.40 L292.30,588.80 Q292.30,587.60 293.50,587.60 L420.60,587.60 Q421.80,587.60 421.80,588.80 L421.80,590.40" stroke="#2a2a2a" stroke-width="1.35" fill="none" />
<text x="354.70" y="591.52" font-size="10.54" font-weight="bold" fill="#111" textLength="3.58" lengthAdjust="spacingAndGlyphs" stroke="#111" stroke-width="0.5" stroke-linejoin="round">*</text>
<path d="M292.30,597.10 L292.30,595.60 Q292.30,594.40 293.50,594.40 L378.00,594.40 Q379.20,594.40 379.20,595.60 L379.20,597.10" stroke="#2a2a2a" stroke-width="1.35" fill="none" />
<text x="332.60" y="599.21" font-size="10.81" font-weight="bold" fill="#111" textLength="3.99" lengthAdjust="spacingAndGlyphs" stroke="#111" stroke-width="0.5" stroke-linejoin="round">*</text>
<path d="M292.30,605.80 L292.30,603.60 Q292.30,602.40 293.50,602.40 L335.00,602.40 Q336.20,602.40 336.20,603.60 L336.20,605.80" stroke="#2a2a2a" stroke-width="1.35" fill="none" />
<text x="312.00" y="606.38" font-size="9.46" font-weight="bold" fill="#111" textLength="3.58" lengthAdjust="spacingAndGlyphs" stroke="#111" stroke-width="0.5" stroke-linejoin="round">*</text>
<rect x="473.30" y="551.80" width="3.20" height="2.80" fill="#3a3a3a"/>
<text x="484.23" y="559.70" font-size="7.29" font-weight="normal" fill="#222" textLength="26.93" lengthAdjust="spacingAndGlyphs" >p&lt;0,05</text>
<rect x="471.40" y="569.70" width="3.20" height="2.50" fill="#3a3a3a"/>
<rect x="477.60" y="569.70" width="3.30" height="2.50" fill="#3a3a3a"/>
<text x="485.43" y="577.00" font-size="7.43" font-weight="normal" fill="#222" textLength="26.97" lengthAdjust="spacingAndGlyphs" >p&lt;0,01</text>
<text transform="translate(10.10,624.00) rotate(-90)" x="0" y="0" font-size="9.40" font-weight="normal" fill="#111" textLength="36.48" lengthAdjust="spacingAndGlyphs" stroke="#111" stroke-width="0.35">cytokine</text>
<text transform="translate(10.10,584.73) rotate(-90)" x="0" y="0" font-size="9.40" font-weight="normal" fill="#111" textLength="64.42" lengthAdjust="spacingAndGlyphs" stroke="#111" stroke-width="0.35">concentration</text>
<text transform="translate(10.10,518.99) rotate(-90)" x="0" y="0" font-size="9.40" font-weight="normal" fill="#111" textLength="35.59" lengthAdjust="spacingAndGlyphs" stroke="#111" stroke-width="0.35">(pg/ml)</text>
<text transform="scale(1.2200,1)" x="173.27" y="722.60" font-size="9.28" font-weight="normal" fill="#1a1a1a" letter-spacing="0.126"  >Nilotinib</text>
<text x="254.68" y="722.60" font-size="9.28" font-weight="normal" fill="#1a1a1a" textLength="63.70" lengthAdjust="spacingAndGlyphs"  >concentration</text>
<text x="10.17" y="767.60" font-size="11.01" font-weight="normal" fill="#1a1a1a" textLength="45.67" lengthAdjust="spacingAndGlyphs" stroke="#1a1a1a" stroke-width="0.2">Nilotinib</text>
<text x="59.67" y="767.60" font-size="11.01" font-weight="normal" fill="#1a1a1a" textLength="32.44" lengthAdjust="spacingAndGlyphs" stroke="#1a1a1a" stroke-width="0.2">effect</text>
<text x="94.85" y="767.60" font-size="11.01" font-weight="normal" fill="#1a1a1a" textLength="12.51" lengthAdjust="spacingAndGlyphs" stroke="#1a1a1a" stroke-width="0.2">on</text>
<text x="112.18" y="767.60" font-size="11.01" font-weight="normal" fill="#1a1a1a" textLength="46.89" lengthAdjust="spacingAndGlyphs" stroke="#1a1a1a" stroke-width="0.2">principal</text>
<text x="161.79" y="767.60" font-size="11.01" font-weight="normal" fill="#1a1a1a" textLength="71.60" lengthAdjust="spacingAndGlyphs" stroke="#1a1a1a" stroke-width="0.2">inflammatory</text>
<text x="238.71" y="767.60" font-size="11.01" font-weight="normal" fill="#1a1a1a" textLength="50.59" lengthAdjust="spacingAndGlyphs" stroke="#1a1a1a" stroke-width="0.2">cytokines</text>
<text x="293.49" y="767.60" font-size="11.01" font-weight="normal" fill="#1a1a1a" textLength="58.02" lengthAdjust="spacingAndGlyphs" stroke="#1a1a1a" stroke-width="0.2">production</text>
<text transform="scale(1.2200,1)" x="292.07" y="767.60" font-size="11.01" font-weight="normal" fill="#1a1a1a" letter-spacing="0.109" stroke="#1a1a1a" stroke-width="0.2">in</text>
<text x="369.73" y="767.60" font-size="11.01" font-weight="normal" fill="#1a1a1a" textLength="17.64" lengthAdjust="spacingAndGlyphs" stroke="#1a1a1a" stroke-width="0.2">cell</text>
<text x="391.90" y="767.60" font-size="11.01" font-weight="normal" fill="#1a1a1a" textLength="37.38" lengthAdjust="spacingAndGlyphs" stroke="#1a1a1a" stroke-width="0.2">culture</text>
<text x="433.64" y="767.60" font-size="11.01" font-weight="normal" fill="#1a1a1a" textLength="70.01" lengthAdjust="spacingAndGlyphs" stroke="#1a1a1a" stroke-width="0.2">supernatants</text>
</svg>
</body></html>
